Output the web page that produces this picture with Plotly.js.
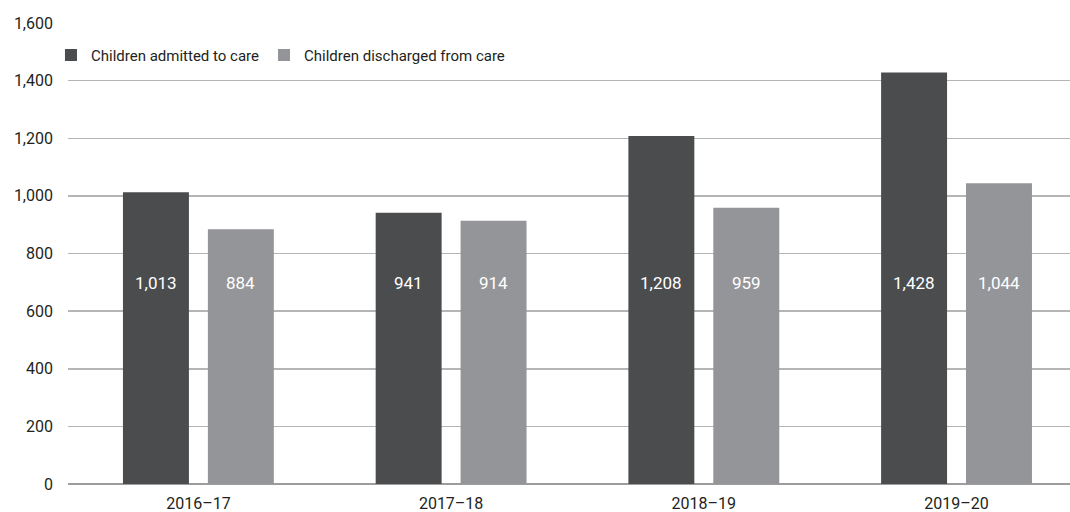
<!DOCTYPE html>
<html>
<head>
<meta charset="utf-8">
<script src="https://cdn.plot.ly/plotly-3.0.1.min.js"></script>
<style>
  html, body { margin: 0; padding: 0; background: #fff; }
  #chart { width: 1070px; height: 512px; }
</style>
</head>
<body>
<div id="chart"></div>
<script>
// Children in care, by financial year
const years = ['2016\u201317', '2017\u201318', '2018\u201319', '2019\u201320'];
const admitted = [1013, 941, 1208, 1428];
const discharged = [884, 914, 959, 1044];
const yTicks = [0, 200, 400, 600, 800, 1000, 1200, 1400, 1600];

const FONT = 'Roboto, "Noto Sans", sans-serif';
const TEXT = '#231f20';
const DARK = '#4b4c4e';
const LIGHT = '#949598';

// bar geometry in category units
const barW = 0.261;
const innerGap = 0.075;
const offDark = -(barW + innerGap / 2);
const offLight = innerGap / 2;
const labelY = 698; // value labels sit at a common height inside the bars

const traces = [
  {
    type: 'bar', name: 'Children admitted to care',
    x: years, y: admitted,
    width: barW, offset: offDark,
    marker: { color: DARK },
    hoverinfo: 'x+y'
  },
  {
    type: 'bar', name: 'Children discharged from care',
    x: years, y: discharged,
    width: barW, offset: offLight,
    marker: { color: LIGHT },
    hoverinfo: 'x+y'
  }
];

const fmt = v => v.toLocaleString('en-US');
const labelFont = { family: FONT, size: 17, color: '#ffffff' };
const annotations = [];
years.forEach((yr, i) => {
  annotations.push({
    x: i + offDark + barW / 2, y: labelY, xref: 'x', yref: 'y',
    text: fmt(admitted[i]), showarrow: false, font: labelFont
  });
  annotations.push({
    x: i + offLight + barW / 2, y: labelY, xref: 'x', yref: 'y',
    text: fmt(discharged[i]), showarrow: false, font: labelFont
  });
});

const layout = {
  width: 1070, height: 512,
  margin: { l: 68, r: 0, t: 23, b: 28 },
  paper_bgcolor: '#ffffff', plot_bgcolor: '#ffffff',
  font: { family: FONT, size: 16, color: TEXT },
  barmode: 'overlay',
  showlegend: true,
  legend: {
    orientation: 'h',
    x: -0.017, xanchor: 'left', xref: 'paper',
    y: 0.93, yanchor: 'middle', yref: 'paper',
    bgcolor: 'rgba(0,0,0,0)',
    font: { family: FONT, size: 15, color: TEXT },
    itemclick: false, itemdoubleclick: false,
    traceorder: 'normal'
  },
  xaxis: {
    type: 'category',
    range: [-0.516, 3.449],
    showgrid: false, zeroline: false,
    showline: false,
    ticks: '', ticklen: 0,
    ticklabelstandoff: 8,
    tickfont: { family: FONT, size: 16, color: TEXT },
    fixedrange: true
  },
  yaxis: {
    range: [0, 1600],
    tickvals: yTicks,
    ticktext: yTicks.map(fmt),
    showgrid: true, gridcolor: '#b5b5b5', gridwidth: 1.5,
    zeroline: true, zerolinecolor: '#9d9d9d', zerolinewidth: 1.5,
    showline: false, ticks: '',
    ticklabelstandoff: 14,
    tickfont: { family: FONT, size: 16, color: TEXT },
    fixedrange: true
  },
  annotations: annotations
};

Plotly.newPlot('chart', traces, layout, { displayModeBar: false, staticPlot: true });
</script>
</body>
</html>
